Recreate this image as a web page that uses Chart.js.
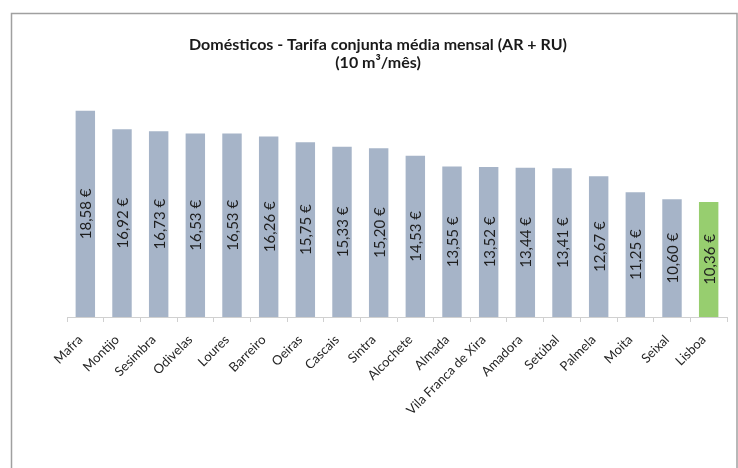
<!DOCTYPE html>
<html>
<head>
<meta charset="utf-8">
<script src="https://cdn.jsdelivr.net/npm/chart.js@4"></script>
<style>
  html, body { margin: 0; padding: 0; background: #ffffff; }
  #wrap { position: relative; width: 738px; height: 468px; }
</style>
</head>
<body>
<div id="wrap"><canvas id="c" width="738" height="468"></canvas></div>
<script>
const categories = ["Mafra","Montijo","Sesimbra","Odivelas","Loures","Barreiro","Oeiras","Cascais","Sintra","Alcochete","Almada","Vila Franca de Xira","Amadora","Setúbal","Palmela","Moita","Seixal","Lisboa"];
const tarifa = [18.58,16.92,16.73,16.53,16.53,16.26,15.75,15.33,15.20,14.53,13.55,13.52,13.44,13.41,12.67,11.25,10.60,10.36];
const highlighted = ["Lisboa"];
const titleLines = ["Domésticos - Tarifa conjunta média mensal (AR + RU)", "(10 m³/mês)"];

const FONT = "Lato, 'Open Sans', sans-serif";
const barColors = categories.map(c => highlighted.includes(c) ? "#97CE6F" : "#A6B4C8");

const frame = {
  id: "frame",
  beforeDraw(chart) {
    const ctx = chart.ctx;
    ctx.save();
    ctx.fillStyle = "#ffffff";
    ctx.fillRect(0, 0, chart.width, chart.height);
    ctx.strokeStyle = "#A0A0A0";
    ctx.lineWidth = 1.5;
    ctx.strokeRect(11.5, 13.5, 725.5, 500);
    ctx.restore();
  }
};

const titleDraw = {
  id: "titleDraw",
  afterDraw(chart) {
    const ctx = chart.ctx;
    ctx.save();
    ctx.font = "bold 16px " + FONT;
    ctx.fillStyle = "#1a1a1a";
    ctx.textAlign = "center";
    ctx.textBaseline = "middle";
    ctx.fillText(titleLines[0], 378, 45);
    ctx.fillText(titleLines[1], 378, 63);
    ctx.restore();
  }
};

const valueLabels = {
  id: "valueLabels",
  afterDatasetsDraw(chart) {
    const ctx = chart.ctx;
    const meta = chart.getDatasetMeta(0);
    ctx.save();
    ctx.font = "15px " + FONT;
    ctx.fillStyle = "#1e1e1e";
    ctx.textAlign = "center";
    ctx.textBaseline = "middle";
    meta.data.forEach((bar, i) => {
      const v = chart.data.datasets[0].data[i];
      const txt = v.toFixed(2).replace(".", ",") + " €";
      const cy = (bar.y + bar.base) / 2;
      ctx.save();
      ctx.translate(bar.x + 1, cy);
      ctx.rotate(-Math.PI / 2);
      ctx.fillText(txt, 0, 0);
      ctx.restore();
    });
    ctx.restore();
  }
};

new Chart(document.getElementById("c"), {
  type: "bar",
  data: {
    labels: categories,
    datasets: [{
      data: tarifa,
      backgroundColor: barColors,
      borderWidth: 0,
      barPercentage: 0.53,
      categoryPercentage: 1.0
    }]
  },
  options: {
    responsive: false,
    animation: false,
    devicePixelRatio: 1,
    layout: { padding: { left: 67, right: 11, top: 95, bottom: 0 } },
    plugins: {
      legend: { display: false },
      tooltip: { enabled: false },
      title: { display: false }
    },
    scales: {
      y: {
        display: false,
        min: 0,
        max: 20
      },
      x: {
        afterFit(scale) { scale.height = 151; },
        grid: {
          display: true,
          drawOnChartArea: false,
          drawTicks: true,
          tickLength: 5,
          offset: true,
          color: "#D0D0D0"
        },
        border: { display: true, color: "#D0D0D0", width: 1 },
        ticks: {
          autoSkip: false,
          maxRotation: 45,
          minRotation: 45,
          padding: 10,
          labelOffset: -5,
          color: "#262626",
          font: { family: FONT, size: 13 }
        }
      }
    }
  },
  plugins: [frame, valueLabels, titleDraw]
});
</script>
</body>
</html>
